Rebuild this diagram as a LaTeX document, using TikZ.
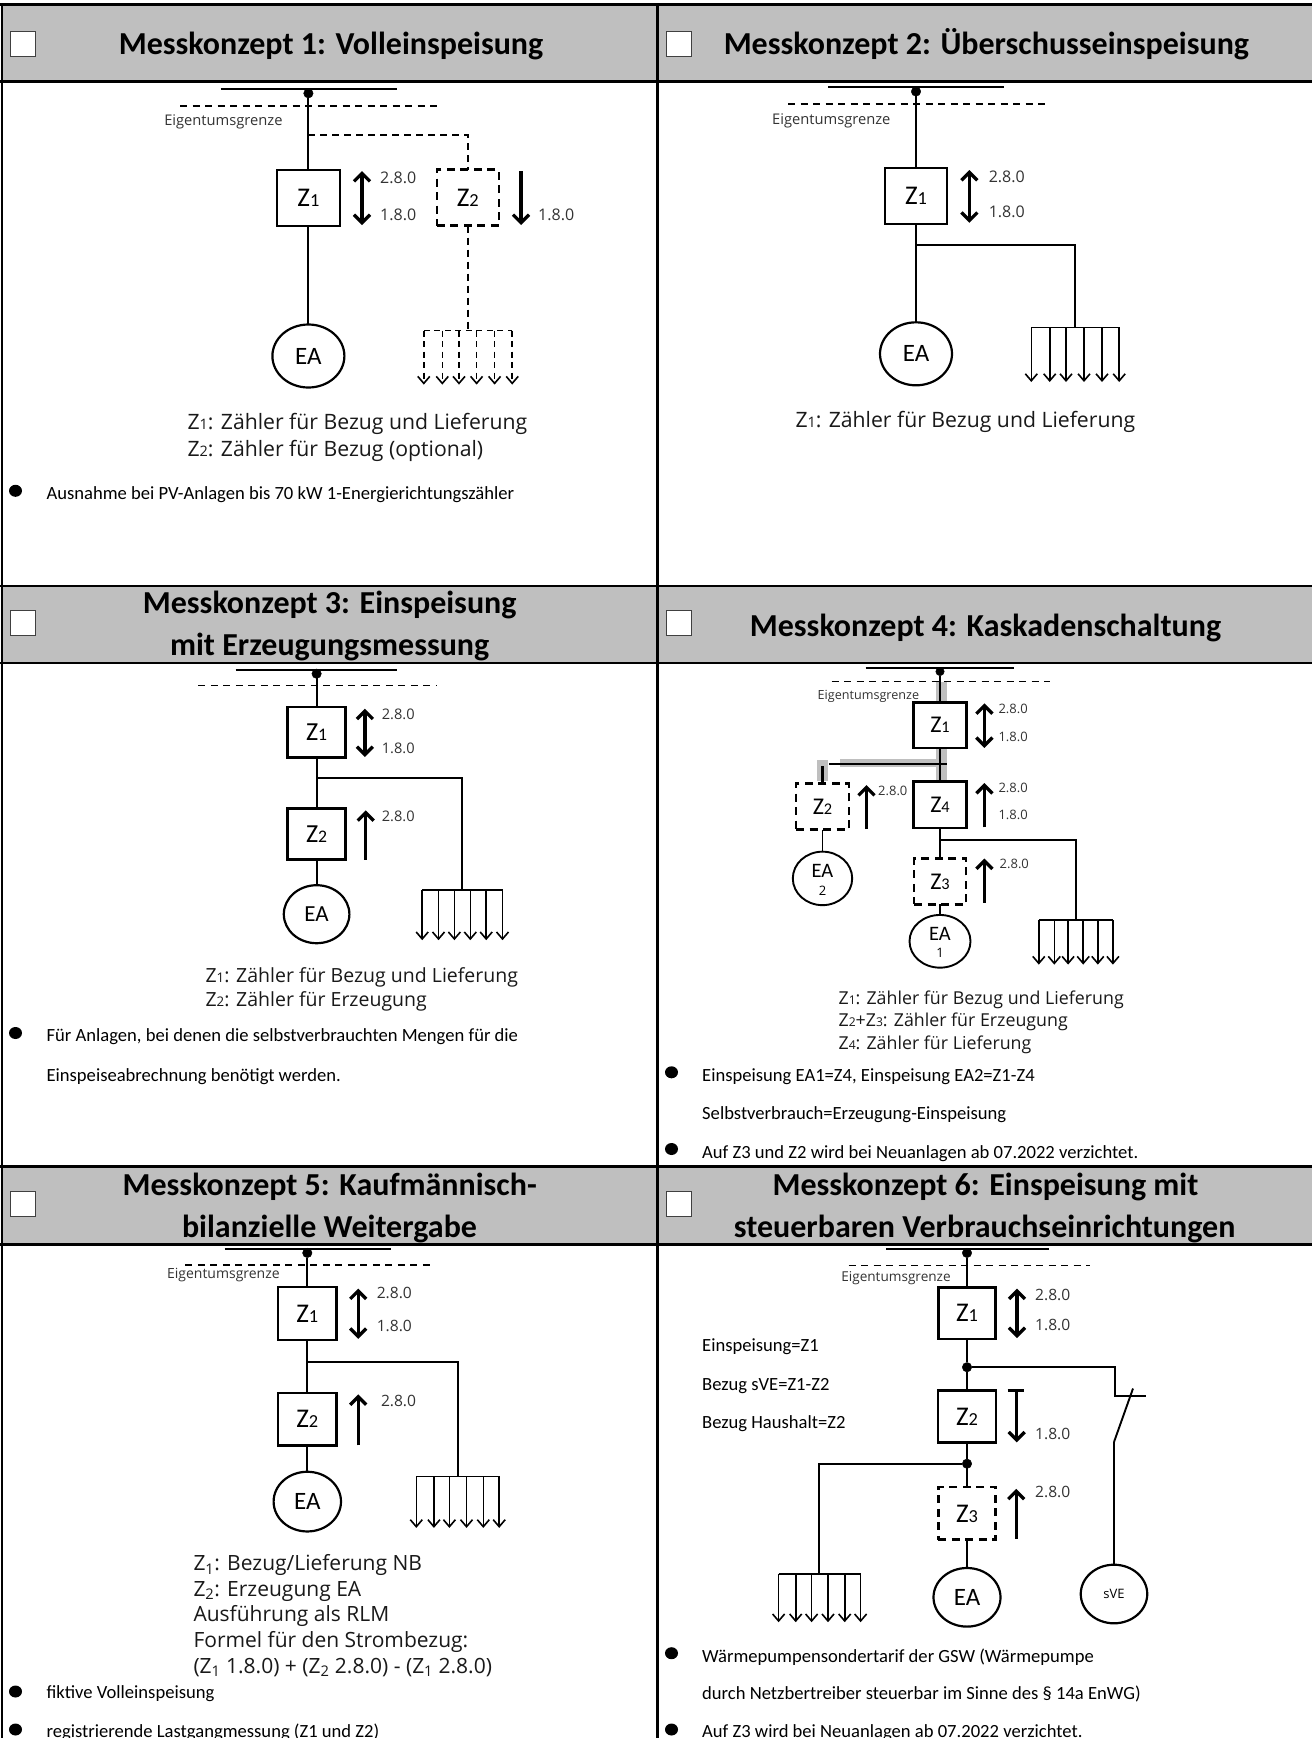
\documentclass[tikz,border=0pt]{standalone}
\usepackage{fontspec}
\setmainfont{Carlito}
\newfontfamily\legf{Open Sans}
\usetikzlibrary{shapes.geometric,arrows.meta}
\newcommand\fs[1]{\fontsize{#1pt}{#1pt}\selectfont}
\newcommand\Zn[1]{Z\scalebox{0.68}{#1}}
\tikzset{
  x=1pt,y=-1pt,
  wire/.style={line width=1.9pt,black},
  bus/.style={line width=1.8pt,black},
  eg/.style={line width=1.3pt,dash pattern=on 7pt off 5.5pt},
  dwire/.style={line width=2pt,dash pattern=on 7pt off 5pt},
  grid/.style={line width=2.6pt,black},
  meter/.style={draw,rectangle,line width=2.6pt,inner sep=0pt,outer sep=0pt,font=\fs{27}},
  dmeter/.style={meter,dash pattern=on 8pt off 5.5pt},
  gen/.style={draw,ellipse,line width=2.2pt,inner sep=0pt,outer sep=0pt,font=\fs{25}},
  conn/.style={draw,circle,fill=black,inner sep=0pt,minimum size=9.5pt,outer sep=0pt},
  bull/.style={draw=none,fill=black,ellipse,inner sep=0pt,minimum width=13pt,minimum height=12pt},
  chk/.style={draw=black!75,fill=white,rectangle,line width=0.9pt,inner sep=0pt,minimum width=25pt,minimum height=25pt},
  title/.style={font=\fs{32}\bfseries,inner sep=0pt,anchor=base,yshift=-1.5pt},
  body/.style={font=\fs{18.6},inner sep=0pt,anchor=base west,yshift=-0.8pt},
  leg/.style={font=\legf\fs{21.2},inner sep=0pt,anchor=base west,text=black!90,yshift=-0.7pt},
  small/.style={font=\legf\fs{15.6},inner sep=0pt,anchor=west,text=black!80},
  egl/.style={font=\legf\fs{14.7},inner sep=0pt,anchor=center,text=black!80},
  fanl/.style={line width=1.6pt,-{Straight Barb[length=7pt,width=12pt,line width=1.6pt]}},
  dfanl/.style={line width=1.6pt,dash pattern=on 6pt off 4.5pt,-{Straight Barb[length=7pt,width=12pt,line width=1.6pt]}},
  fant/.style={line width=1.6pt},
  dfant/.style={line width=1.6pt,dash pattern=on 6pt off 4.5pt},
  dbl/.style={line width=3.3pt,{Straight Barb[length=8pt,width=16pt,line width=3.3pt]}-{Straight Barb[length=8pt,width=16pt,line width=3.3pt]}},
  sgl/.style={line width=3.3pt,-{Straight Barb[length=8pt,width=16pt,line width=3.3pt]}},
}
\definecolor{headgray}{HTML}{BFBFBF}
% #1 style pair, #2 prefix, #3 top y, #4 bottom y, #5 xs
\newcommand\Fan[5][]{%
  \foreach \xx [count=\ii] in {#5} {
    \coordinate (#2t\ii) at (\xx,#3);
    \coordinate (#2b\ii) at (\xx,#4);
    \draw[#1fanl] (#2t\ii) -- (#2b\ii);
  }
  \draw[#1fant] (#2t1) -- (#2t6);
}
% #1 style, #2 name, #3 x, #4 from y, #5 to y
\newcommand\Arr[5]{%
  \coordinate (#2s) at (#3,#4);
  \coordinate (#2e) at (#3,#5);
  \draw[#1] (#2s) -- (#2e);
}
\begin{document}
\begin{tikzpicture}
\useasboundingbox (0,0) rectangle (1312,1738);
\fill[white] (0,0) rectangle (1312,1738);
% headers
\fill[headgray] (2,5) rectangle (1312,82);
\fill[headgray] (2,586) rectangle (1312,663);
\fill[headgray] (2,1167) rectangle (1312,1244);
% table lines
\draw[grid] (0,4.5) -- (1312,4.5);
\draw[grid] (0,81.7) -- (1312,81.7);
\draw[grid] (0,586) -- (1312,586);
\draw[grid] (0,663) -- (1312,663);
\draw[grid] (0,1166.6) -- (1312,1166.6);
\draw[grid] (0,1244.5) -- (1312,1244.5);
\draw[grid] (2,4) -- (2,1738);
\draw[grid] (657.5,4) -- (657.5,1738);
% check boxes
\node[chk] (c1) at (23,44) {};
\node[chk] (c2) at (678.5,44) {};
\node[chk] (c3) at (23,622.5) {};
\node[chk] (c4) at (678.5,622.5) {};
\node[chk] (c5) at (23,1204) {};
\node[chk] (c6) at (678.5,1204) {};
% titles
\node[title] (t1) at (331,52.7) {Messkonzept 1: Volleinspeisung};
\node[title] (t2) at (986.4,52.7) {Messkonzept 2: Überschusseinspeisung};
\node[title] (t3a) at (329.7,612) {Messkonzept 3: Einspeisung};
\node[title] (t3b) at (329.7,654) {mit Erzeugungsmessung};
\node[title] (t4) at (985.5,634.6) {Messkonzept 4: Kaskadenschaltung};
\node[title] (t5a) at (329.7,1193.9) {Messkonzept 5: Kaufmännisch-};
\node[title] (t5b) at (329.5,1235.6) {bilanzielle Weitergabe};
\node[title] (t6a) at (985.5,1193.9) {Messkonzept 6: Einspeisung mit};
\node[title] (t6b) at (984.7,1235.6) {steuerbaren Verbrauchseinrichtungen};

% ===== Panel 1 =====
\coordinate (a1L) at (220.5,89); \coordinate (a1R) at (396.6,89);
\draw[bus] (a1L) -- (a1R);
\coordinate (a1EL) at (180,106); \coordinate (a1ER) at (440,106);
\draw[eg] (a1EL) -- (a1ER);
\node[conn] (a1d) at (308.4,93.3) {};
\node[egl] (a1eg) at (223.4,122) {Eigentumsgrenze};
\node[meter,minimum width=63pt,minimum height=56pt] (a1z1) at (308.4,198) {\Zn{1}};
\node[dmeter,minimum width=62pt,minimum height=56pt] (a1z2) at (467.8,197.5) {\Zn{2}};
\node[gen,minimum width=72pt,minimum height=63pt] (a1ea) at (308.4,356) {EA};
\draw[wire] (a1d) -- (a1z1.north);
\draw[wire] (a1z1.south) -- (a1ea.north);
\coordinate (a1j) at (308.4,134.7);
\draw[dwire] (a1j) -| (a1z2.north);
\Fan[d]{a1f}{330.5}{384.6}{423.8,442.3,459,476.6,494.6,512.2}
\coordinate (a1h) at (467.8,330.5);
\draw[dwire] (a1z2.south) -- (a1h);
\Arr{dbl}{a1u}{362}{225}{171}
\Arr{sgl}{a1v}{521}{171}{225}
\node[small,font=\legf\fs{16}] (a1l1) at (380,178) {2.8.0};
\node[small,font=\legf\fs{16}] (a1l2) at (380,215) {1.8.0};
\node[small,font=\legf\fs{16}] (a1l3) at (538,215) {1.8.0};
\node[leg] (a1n1) at (187.4,429) {\Zn{1}: Zähler für Bezug und Lieferung};
\node[leg] (a1n2) at (187.4,456) {\Zn{2}: Zähler für Bezug (optional)};
\node[bull] (a1b1) at (15.5,490.8) {};
\node[body] (a1t1) at (46.4,498.7) {Ausnahme bei PV-Anlagen bis 70 kW 1-Energierichtungszähler};

% ===== Panel 2 =====
\coordinate (a2L) at (828.4,87.3); \coordinate (a2R) at (1004,87.3);
\draw[bus] (a2L) -- (a2R);
\coordinate (a2EL) at (788,103.9); \coordinate (a2ER) at (1047.6,103.9);
\draw[eg] (a2EL) -- (a2ER);
\node[conn] (a2d) at (916,91.5) {};
\node[egl] (a2eg) at (831.3,120.6) {Eigentumsgrenze};
\node[meter,minimum width=62pt,minimum height=56pt] (a2z1) at (916,196) {\Zn{1}};
\node[gen,minimum width=72pt,minimum height=63pt] (a2ea) at (916,353.8) {EA};
\draw[wire] (a2d) -- (a2z1.north);
\draw[wire] (a2z1.south) -- (a2ea.north);
\coordinate (a2j) at (916,245.4);
\coordinate (a2h) at (1075.2,327.4);
\draw[wire] (a2j) -| (a2h);
\Fan{a2f}{327.4}{382}{1031.3,1049.7,1066,1084,1102,1119.2}
\Arr{dbl}{a2u}{969.4}{222.8}{170}
\node[small,font=\legf\fs{16}] (a2l1) at (988.6,177.3) {2.8.0};
\node[small,font=\legf\fs{16}] (a2l2) at (988.6,212) {1.8.0};
\node[leg] (a2n1) at (795.3,427) {\Zn{1}: Zähler für Bezug und Lieferung};

% ===== Panel 3 =====
\coordinate (a3L) at (235.6,670); \coordinate (a3R) at (396.6,670);
\draw[bus] (a3L) -- (a3R);
\coordinate (a3EL) at (198.3,685.4); \coordinate (a3ER) at (437.2,685.4);
\draw[eg] (a3EL) -- (a3ER);
\node[conn] (a3d) at (316.6,673.7) {};
\node[meter,minimum width=58pt,minimum height=50.5pt,font=\fs{26}] (a3z1) at (316.6,732.4) {\Zn{1}};
\node[meter,minimum width=58pt,minimum height=51pt,font=\fs{26}] (a3z2) at (316.6,834.2) {\Zn{2}};
\node[gen,minimum width=65.6pt,minimum height=58pt,font=\fs{23}] (a3ea) at (316.6,914.2) {EA};
\draw[wire] (a3d) -- (a3z1.north);
\draw[wire] (a3z1.south) -- (a3z2.north);
\draw[wire] (a3z2.south) -- (a3ea.north);
\coordinate (a3j) at (316.6,778.3);
\coordinate (a3h) at (462.3,890.1);
\draw[wire] (a3j) -| (a3h);
\Fan{a3f}{890.1}{940.2}{422.2,438.5,454.4,470.3,486.2,502.5}
\Arr{dbl}{a3u}{364.9}{757}{708.7}
\Arr{sgl}{a3v}{365.7}{859.6}{810.3}
\node[small,font=\legf\fs{14.6}] (a3l1) at (381.6,714.7) {2.8.0};
\node[small,font=\legf\fs{14.6}] (a3l2) at (381.6,747.9) {1.8.0};
\node[small,font=\legf\fs{14.6}] (a3l3) at (381.6,816) {2.8.0};
\node[leg,font=\legf\fs{19.5}] (a3n1) at (205.4,981.6) {\Zn{1}: Zähler für Bezug und Lieferung};
\node[leg,font=\legf\fs{19.5}] (a3n2) at (205.4,1006) {\Zn{2}: Zähler für Erzeugung};
\node[bull] (a3b1) at (15.5,1033) {};
\node[body] (a3t1) at (46.4,1041) {Für Anlagen, bei denen die selbstverbrauchten Mengen für die};
\node[body] (a3t2) at (46.4,1080.6) {Einspeiseabrechnung benötigt werden.};

% ===== Panel 4 =====
\fill[headgray] (935.5,681.6) rectangle (946.8,702.3);
\fill[headgray] (935.5,747.9) rectangle (946.8,781.4);
\fill[headgray] (840,758.8) rectangle (946.8,767);
\fill[headgray] (817,760) rectangle (828,781.4);
\coordinate (a4L) at (865.6,667.7); \coordinate (a4R) at (1013.7,667.7);
\draw[bus,line width=2.2pt] (a4L) -- (a4R);
\coordinate (a4EL) at (831.7,681.6); \coordinate (a4ER) at (1050,681.6);
\draw[eg] (a4EL) -- (a4ER);
\node[conn,minimum size=8.5pt] (a4d) at (940,671.5) {};
\node[egl,font=\legf\fs{12.6}] (a4eg) at (868.4,696) {Eigentumsgrenze};
\node[meter,minimum width=52.6pt,minimum height=45.6pt,font=\fs{24}] (a4z1) at (940,725.1) {\Zn{1}};
\node[meter,minimum width=52.6pt,minimum height=46.3pt,font=\fs{24}] (a4z4) at (940,804.8) {\Zn{4}};
\node[dmeter,minimum width=52pt,minimum height=46pt,font=\fs{24}] (a4z3) at (940,881.4) {\Zn{3}};
\node[dmeter,minimum width=52.7pt,minimum height=46.3pt,font=\fs{24}] (a4z2) at (822.5,806.4) {\Zn{2}};
\node[gen,align=center,minimum width=59.4pt,minimum height=53.5pt,line width=1.9pt] (a4ea2) at (822.5,878.4) {};
\node[gen,minimum width=61pt,minimum height=52.7pt,line width=1.9pt] (a4ea1) at (940,941.3) {};
\node[inner sep=0pt,font=\fs{20.5}] (a4ea2t) at (822.5,870.5) {EA};
\node[inner sep=0pt,font=\legf\fs{13}] (a4ea2n) at (822.5,890.5) {2};
\node[inner sep=0pt,font=\fs{20.5}] (a4ea1t) at (940,933.8) {EA};
\node[inner sep=0pt,font=\legf\fs{13}] (a4ea1n) at (940,952.6) {1};
\draw[wire] (a4d) -- (a4z1.north);
\draw[wire,line width=2.2pt] (a4z1.south) -- (a4z4.north);
\draw[wire] (a4z4.south) -- (a4z3.north);
\draw[wire] (a4z3.south) -- (a4ea1.north);
\draw[wire] (a4z2.south) -- (a4ea2.north);
\coordinate (a4k) at (946.8,764.4); \coordinate (a4m) at (829.2,764.4);
\draw[wire] (a4k) -- (a4m);
\coordinate (a4n) at (822.5,766.3);
\draw[wire,line width=2.2pt] (a4n) -- (a4z2.north);
\coordinate (a4j) at (940,840.4);
\coordinate (a4h) at (1075.7,919.9);
\draw[wire] (a4j) -| (a4h);
\Fan{a4f}{919.9}{964.6}{1038.8,1054.3,1068.1,1083.2,1097.8,1112.9}
\Arr{dbl}{a4u}{984.4}{747.9}{703.4}
\Arr{sgl}{a4v}{984.4}{827.3}{783}
\Arr{sgl}{a4w}{984.4}{902.5}{858.5}
\Arr{sgl}{a4x}{866.5}{829}{785}
\node[small,font=\legf\fs{13}] (a4l1) at (998.3,708.7) {2.8.0};
\node[small,font=\legf\fs{13}] (a4l2) at (998.3,737) {1.8.0};
\node[small,font=\legf\fs{13}] (a4l3) at (998.3,788) {2.8.0};
\node[small,font=\legf\fs{13}] (a4l4) at (998.3,814.5) {1.8.0};
\node[small,font=\legf\fs{13}] (a4l5) at (999.5,863.4) {2.8.0};
\node[small,font=\legf\fs{13}] (a4l6) at (878,790.8) {2.8.0};
\node[leg,font=\legf\fs{17.8}] (a4n1) at (838.4,1003.4) {\Zn{1}: Zähler für Bezug und Lieferung};
\node[leg,font=\legf\fs{17.8}] (a4n2) at (838.4,1026) {\Zn{2}+\Zn{3}: Zähler für Erzeugung};
\node[leg,font=\legf\fs{17.8}] (a4n3) at (838.4,1048.6) {\Zn{4}: Zähler für Lieferung};
\node[bull] (a4b1) at (671.5,1072.3) {};
\node[body] (a4t1) at (702,1080.6) {Einspeisung EA1=Z4, Einspeisung EA2=Z1-Z4};
\node[body] (a4t2) at (702,1118.2) {Selbstverbrauch=Erzeugung-Einspeisung};
\node[bull] (a4b2) at (671.5,1149) {};
\node[body] (a4t3) at (702,1157.7) {Auf Z3 und Z2 wird bei Neuanlagen ab 07.2022 verzichtet.};

% ===== Panel 5 =====
\coordinate (a5L) at (224.7,1249.2); \coordinate (a5R) at (391.2,1249.2);
\draw[bus] (a5L) -- (a5R);
\coordinate (a5EL) at (185.4,1265); \coordinate (a5ER) at (431.8,1265);
\draw[eg] (a5EL) -- (a5ER);
\node[conn] (a5d) at (307.3,1252.9) {};
\node[egl,font=\legf\fs{14}] (a5eg) at (223.4,1275.5) {Eigentumsgrenze};
\node[meter,minimum width=58.6pt,minimum height=52.7pt] (a5z1) at (307.3,1313.5) {\Zn{1}};
\node[meter,minimum width=58.6pt,minimum height=52.3pt] (a5z2) at (307.3,1419.2) {\Zn{2}};
\node[gen,minimum width=67.4pt,minimum height=59.7pt] (a5ea) at (307.3,1501.6) {EA};
\draw[wire] (a5d) -- (a5z1.north);
\draw[wire] (a5z1.south) -- (a5z2.north);
\draw[wire] (a5z2.south) -- (a5ea.north);
\coordinate (a5j) at (307.3,1361.6);
\coordinate (a5h) at (457.7,1476.3);
\draw[wire] (a5j) -| (a5h);
\Fan{a5f}{1476.3}{1527.9}{416.3,433.9,449.4,466.5,483.3,499.2}
\Arr{dbl}{a5u}{358.2}{1338.8}{1288.6}
\Arr{sgl}{a5v}{358.2}{1445.3}{1394.4}
\node[small] (a5l1) at (376.6,1293.4) {2.8.0};
\node[small] (a5l2) at (376.6,1325.9) {1.8.0};
\node[small] (a5l3) at (380.8,1401) {2.8.0};
\node[leg,font=\legf\fs{21}] (a5n1) at (193.3,1570.2) {Z\textsubscript{1}: Bezug/Lieferung NB};
\node[leg,font=\legf\fs{21}] (a5n2) at (193.3,1595.7) {Z\textsubscript{2}: Erzeugung EA};
\node[leg,font=\legf\fs{21}] (a5n3) at (193.3,1620.8) {Ausführung als RLM};
\node[leg,font=\legf\fs{21}] (a5n4) at (193.3,1646.6) {Formel für den Strombezug:};
\node[leg,font=\legf\fs{21}] (a5n5) at (193.3,1672.4) {(Z\textsubscript{1} 1.8.0) + (Z\textsubscript{2} 2.8.0) - (Z\textsubscript{1} 2.8.0)};
\node[bull] (a5b1) at (15.5,1691.5) {};
\node[body] (a5t1) at (46.4,1698) {fiktive Volleinspeisung};
\node[bull] (a5b2) at (15.5,1729.5) {};
\node[body] (a5t2) at (46.4,1736.9) {registrierende Lastgangmessung (Z1 und Z2)};

% ===== Panel 6 =====
\coordinate (a6L) at (886,1249.2); \coordinate (a6R) at (1049.3,1249.2);
\draw[bus] (a6L) -- (a6R);
\coordinate (a6EL) at (848.5,1265.4); \coordinate (a6ER) at (1090,1265.4);
\draw[eg] (a6EL) -- (a6ER);
\node[conn] (a6d) at (967,1252.9) {};
\node[egl,font=\legf\fs{13.6}] (a6eg) at (896,1278.5) {Eigentumsgrenze};
\node[meter,minimum width=57.3pt,minimum height=51.6pt] (a6z1) at (967,1313) {\Zn{1}};
\node[meter,minimum width=57.7pt,minimum height=52pt] (a6z2) at (967,1416.4) {\Zn{2}};
\node[dmeter,minimum width=57.3pt,minimum height=52.7pt] (a6z3) at (967,1513.4) {\Zn{3}};
\node[gen,minimum width=67pt,minimum height=58.6pt] (a6ea) at (967,1597.3) {EA};
\node[gen,minimum width=66.5pt,minimum height=58.6pt,font=\legf\fs{13}] (a6sve) at (1114,1594) {sVE};
\node[conn] (a6d2) at (967,1367.2) {};
\node[conn] (a6d3) at (967,1463.7) {};
\draw[wire] (a6d) -- (a6z1.north);
\draw[wire] (a6z1.south) -- (a6d2);
\draw[wire] (a6d2) -- (a6z2.north);
\draw[wire] (a6z2.south) -- (a6d3);
\draw[wire] (a6d3) -- (a6z3.north);
\draw[wire] (a6z3.south) -- (a6ea.north);
\coordinate (a6s1) at (1115,1395.9);
\coordinate (a6s2) at (1145.5,1395.9);
\coordinate (a6s3) at (1133,1388.5);
\coordinate (a6s4) at (1114,1442);
\draw[wire] (a6d2) -| (a6s1) -- (a6s2);
\draw[wire] (a6s3) -- (a6s4);
\draw[wire] (a6s4) -- (a6sve.north);
\coordinate (a6h) at (819.2,1574);
\draw[wire] (a6d3) -| (a6h);
\Fan{a6f}{1574}{1622.2}{778.6,795.7,811.6,828,844.7,860.6}
\Arr{dbl}{a6u}{1017}{1338}{1288.6}
\Arr{sgl}{a6v}{1016.7}{1390.4}{1442.3}
\coordinate (a6ta) at (1007.5,1390.4); \coordinate (a6tb) at (1024.2,1390.4);
\draw[line width=2.6pt] (a6ta) -- (a6tb);
\Arr{sgl}{a6w}{1016.2}{1538.9}{1488.8}
\node[small] (a6l1) at (1035,1294.5) {2.8.0};
\node[small] (a6l2) at (1035,1324.8) {1.8.0};
\node[small] (a6l3) at (1035,1433.5) {1.8.0};
\node[small] (a6l4) at (1035,1492) {2.8.0};
\node[body] (a6x1) at (702,1351) {Einspeisung=Z1};
\node[body] (a6x2) at (702,1389.3) {Bezug sVE=Z1-Z2};
\node[body] (a6x3) at (702,1428) {Bezug Haushalt=Z2};
\node[bull] (a6b1) at (671.5,1653.2) {};
\node[body] (a6t1) at (702,1661.3) {Wärmepumpensondertarif der GSW (Wärmepumpe};
\node[body] (a6t2) at (702,1698.9) {durch Netzbertreiber steuerbar im Sinne des § 14a EnWG)};
\node[bull] (a6b2) at (671.5,1729.5) {};
\node[body] (a6t3) at (702,1736.9) {Auf Z3 wird bei Neuanlagen ab 07.2022 verzichtet.};
\end{tikzpicture}
\end{document}
